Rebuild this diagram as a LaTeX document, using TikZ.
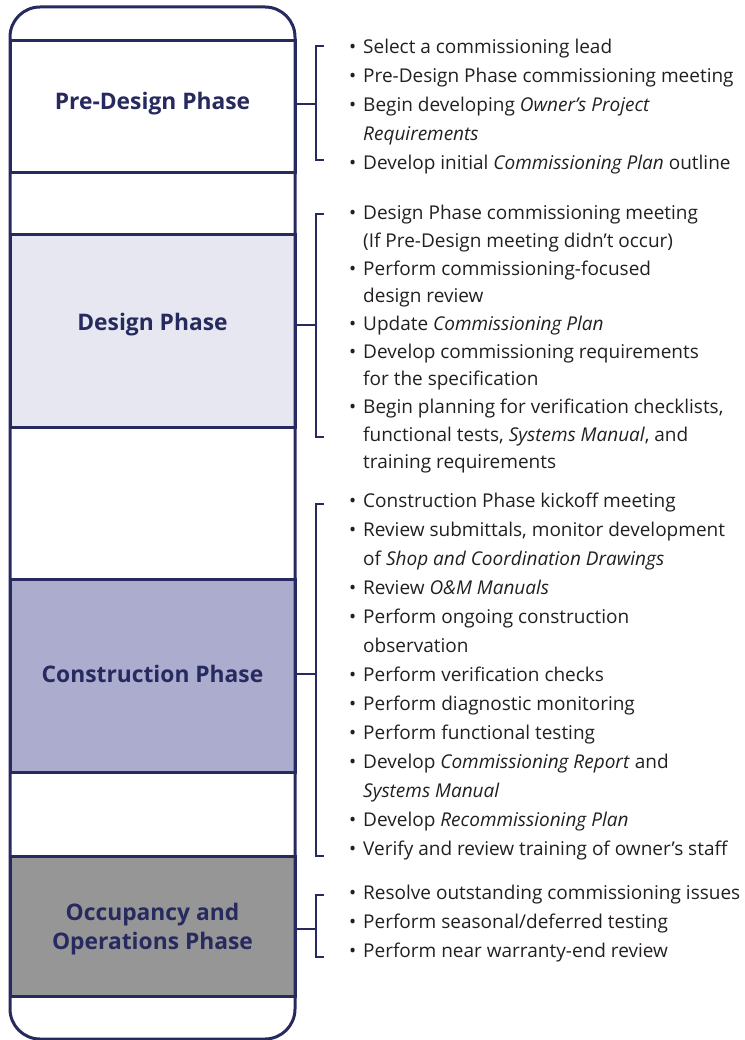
\documentclass[tikz,border=0pt]{standalone}
\usepackage{fontspec}
\setmainfont{Open Sans}
\usetikzlibrary{positioning, calc}
\definecolor{navy}{HTML}{262A5E}
\definecolor{inkcol}{HTML}{231F20}
\definecolor{designcol}{HTML}{E6E7F1}
\definecolor{constcol}{HTML}{ABACCE}
\definecolor{occcol}{HTML}{969696}
\newcommand{\bul}{\makebox[14pt][l]{\textbullet}}
\newcommand{\cnt}{\hspace*{14pt}}

\begin{document}
\begin{tikzpicture}[x=1pt, y=-1pt,
    band/.style={draw=navy, line width=3pt, minimum width=285pt, inner sep=0pt},
    lbl/.style={navy, font=\fontsize{22.8}{28.5}\selectfont\bfseries, align=center},
    tasks/.style={inkcol, anchor=north west, inner sep=0pt, align=left,
      font=\fontsize{19}{29}\selectfont},
    brk/.style={navy, line width=2.2pt},
    stem/.style={navy, line width=2.2pt}]
  \useasboundingbox (0,0) rectangle (744,1040);
  % phase bands
  \node[band, fill=white, minimum height=132pt] (pre) at (152.5,107) {};
  \node[band, fill=designcol, minimum height=192pt] (des) at (152.5,331) {};
  \node[band, fill=constcol, minimum height=193pt] (con) at (152.5,675.5) {};
  \node[band, fill=occcol, minimum height=140pt] (occ) at (152.5,926) {};
  % outer frame
  \draw[navy, line width=3pt, rounded corners=30pt] (10,7) rectangle (295,1039);
  % phase names
  \node[lbl] (lblpre) at (152.5,104) {Pre-Design Phase};
  \node[lbl] (lbldes) at (152.5,325) {Design Phase};
  \node[lbl] (lblcon) at (152.5,674) {Construction Phase};
  \node[lbl] (lblocc) at (152.5,929) {Occupancy and\\Operations Phase};
  % brackets
  \foreach \p/\t/\b in {pre/46/160, des/214/437, con/504/856, occ/895/957} {
    \coordinate (top\p) at (316,\t);
    \coordinate (bot\p) at (316,\b);
    \draw[brk] ([xshift=8pt]top\p) -- (top\p) -- (bot\p) -- ([xshift=8pt]bot\p);
    \draw[stem] (\p.east |- lbl\p) -- (top\p |- lbl\p);
  }
  % task lists
  \node[tasks] (listpre) at (349,33.2) {\strut\bul Select a commissioning lead\\
    \bul Pre-Design Phase commissioning meeting\\
    \bul Begin developing \textit{Owner's Project}\\
    \cnt\textit{Requirements}\\
    \bul Develop initial \textit{Commissioning Plan} outline};
  \node[tasks, font=\fontsize{19}{27.7}\selectfont] (listdes) at (349,200.1) {\strut\bul Design Phase commissioning meeting\\
    \cnt(If Pre-Design meeting didn't occur)\\
    \bul Perform commissioning-focused\\
    \cnt design review\\
    \bul Update \textit{Commissioning Plan}\\
    \bul Develop commissioning requirements\\
    \cnt for the specification\\
    \bul Begin planning for verification checklists,\\
    \cnt functional tests, \textit{Systems Manual}, and\\
    \cnt training requirements};
  \node[tasks] (listcon) at (349,487.2) {\strut\bul Construction Phase kickoff meeting\\
    \bul Review submittals, monitor development\\
    \cnt of \textit{Shop and Coordination Drawings}\\
    \bul Review \textit{O\&M Manuals}\\
    \bul Perform ongoing construction\\
    \cnt observation\\
    \bul Perform verification checks\\
    \bul Perform diagnostic monitoring\\
    \bul Perform functional testing\\
    \bul Develop \textit{Commissioning Report} and\\
    \cnt\textit{Systems Manual}\\
    \bul Develop \textit{Recommissioning Plan}\\
    \bul Verify and review training of owner's staff};
  \node[tasks] (listocc) at (349,879.2) {\strut\bul Resolve outstanding commissioning issues\\
    \bul Perform seasonal/deferred testing\\
    \bul Perform near warranty-end review};
\end{tikzpicture}
\end{document}
